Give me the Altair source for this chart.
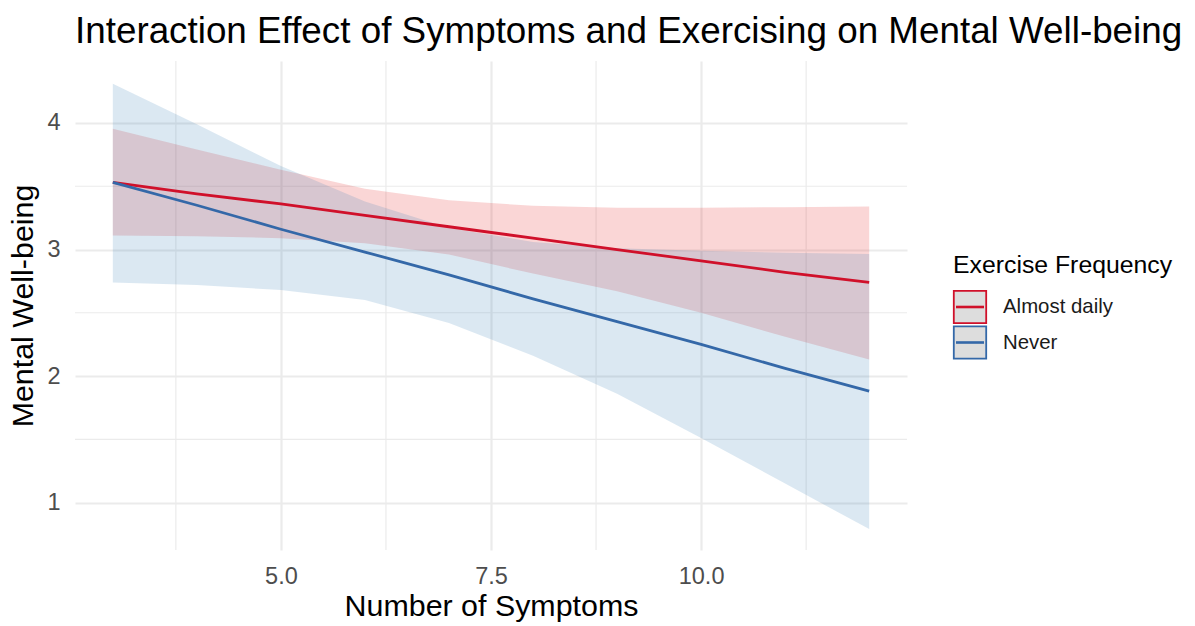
import altair as alt
import pandas as pd

symptoms = [3, 4, 5, 6, 7, 8, 9, 10, 11, 12]
groups = ["Almost daily", "Never"]
legend_title = "Exercise Frequency"
daily_fit = [3.53, 3.44, 3.36, 3.27, 3.18, 3.09, 3.00, 2.91, 2.82, 2.74]
daily_lo = [3.11, 3.105, 3.09, 3.05, 2.96, 2.81, 2.67, 2.50, 2.31, 2.13]
daily_hi = [3.955, 3.79, 3.63, 3.48, 3.39, 3.345, 3.33, 3.33, 3.335, 3.34]
never_fit = [3.53, 3.35, 3.16, 2.98, 2.80, 2.61, 2.43, 2.25, 2.06, 1.88]
never_lo = [2.74, 2.72, 2.68, 2.60, 2.42, 2.16, 1.86, 1.51, 1.15, 0.79]
never_hi = [4.31, 3.99, 3.66, 3.38, 3.17, 3.06, 3.01, 2.99, 2.975, 2.965]

x_major = [5.0, 7.5, 10.0]
x_minor = [3.75, 6.25, 8.75, 11.25]
y_major = [1, 2, 3, 4]
y_minor = [1.5, 2.5, 3.5]

line_colors = ["#D0102A", "#3468A8"]
fill_colors = ["#E41A1C", "#377EB8"]

rows = []
for g, fit, lo, hi in [(groups[0], daily_fit, daily_lo, daily_hi),
                       (groups[1], never_fit, never_lo, never_hi)]:
    for s, f, l, h in zip(symptoms, fit, lo, hi):
        rows.append({"symptoms": s, "fit": f, "lo": l, "hi": h, "group": g})
df = pd.DataFrame(rows)

xs = alt.Scale(domain=[2.55, 12.45], nice=False, zero=False)
ys = alt.Scale(domain=[0.625, 4.49], nice=False, zero=False)

GRID = "#EBEBEB"
FONT = "Liberation Sans"

x_axis = alt.Axis(values=x_major, format=".1f", title="Number of Symptoms",
                  grid=True, gridColor=GRID, gridWidth=2.2, ticks=False, domain=False,
                  labelFontSize=23.5, labelColor="#4D4D4D", labelPadding=14,
                  titleFontSize=30.4, titleColor="#000000", titleFontWeight="normal",
                  titlePadding=4)
y_axis = alt.Axis(values=y_major, format="d", title="Mental Well-being",
                  grid=True, gridColor=GRID, gridWidth=2.2, ticks=False, domain=False,
                  labelFontSize=23.5, labelColor="#4D4D4D", labelPadding=15,
                  titleFontSize=30.4, titleColor="#000000", titleFontWeight="normal",
                  titlePadding=8)

xminor = alt.Chart(pd.DataFrame({"symptoms": x_minor})).mark_rule(color=GRID, strokeWidth=1.2).encode(
    x=alt.X("symptoms:Q", scale=xs, axis=x_axis))
yminor = alt.Chart(pd.DataFrame({"fit": y_minor})).mark_rule(color=GRID, strokeWidth=1.2).encode(
    y=alt.Y("fit:Q", scale=ys, axis=y_axis))

base = alt.Chart(df)

ribbons = base.mark_area(opacity=0.18).encode(
    x=alt.X("symptoms:Q", scale=xs, axis=x_axis),
    y=alt.Y("lo:Q", scale=ys, axis=y_axis),
    y2="hi:Q",
    color=alt.Color("group:N", scale=alt.Scale(domain=groups, range=fill_colors), legend=None),
)

lines = base.mark_line(strokeWidth=2.8).encode(
    x=alt.X("symptoms:Q", scale=xs, axis=x_axis),
    y=alt.Y("fit:Q", scale=ys, axis=y_axis),
    stroke=alt.Stroke("group:N", scale=alt.Scale(domain=groups, range=line_colors), legend=None),
)

# legend drawn from the category list (outside the plot area, to the right)
legend_df = pd.DataFrame({"group": groups})
title_df = pd.DataFrame({"t": [legend_title]})
legend_layers = [
    alt.Chart(title_df).mark_text(align="left", baseline="alphabetic", fontSize=24.8,
                                  color="#000000", font=FONT).encode(
        x=alt.value(878), y=alt.value(212), text="t:N")
]
for i, g in enumerate(groups):
    cy = 246 + 35.5 * i
    sub = alt.Chart(legend_df).transform_filter(alt.datum.group == g)
    legend_layers.append(
        sub.mark_square(size=1050, fill="#DDDDDD", stroke=line_colors[i], strokeWidth=1.8,
                        opacity=1, fillOpacity=1).encode(x=alt.value(895), y=alt.value(cy)))
    legend_layers.append(
        sub.mark_rule(color=line_colors[i], strokeWidth=2.6).encode(
            x=alt.value(881), x2=alt.value(909), y=alt.value(cy)))
    legend_layers.append(
        sub.mark_text(align="left", baseline="middle", fontSize=20.4, color="#1A1A1A",
                      font=FONT).encode(x=alt.value(928), y=alt.value(cy), text="group:N"))

chart = alt.layer(xminor, yminor, ribbons, lines, *legend_layers).properties(
    width=832, height=489,
    title=alt.Title("Interaction Effect of Symptoms and Exercising on Mental Well-being",
                    anchor="start", frame="group", fontSize=36.8, fontWeight="normal",
                    color="#000000", font=FONT, offset=10, limit=1150),
    padding={"left": 75, "top": 61, "right": 288, "bottom": 76},
    autosize=alt.AutoSizeParams(type="none"),
).configure(font=FONT).configure_view(stroke=None).configure_axis(
    labelFont=FONT, titleFont=FONT
)

chart.save("out.html", embed_options={"renderer": "svg", "actions": False})
